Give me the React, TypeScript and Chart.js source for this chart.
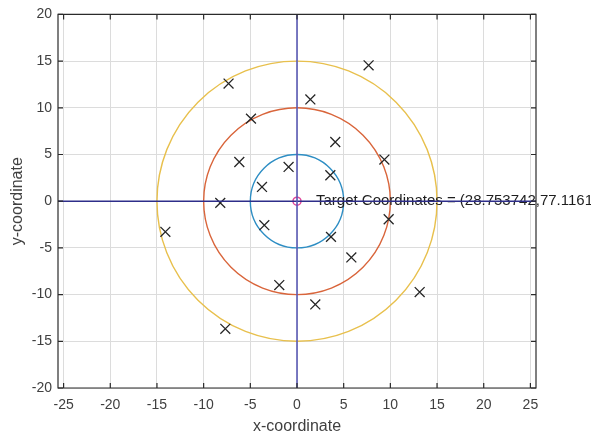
import React, { useEffect, useRef } from "react";
import { Chart, registerables } from "chart.js";

Chart.register(...registerables);

// ---- data ----
const xTickValues = [-25, -20, -15, -10, -5, 0, 5, 10, 15, 20, 25];
const yTickValues = [-20, -15, -10, -5, 0, 5, 10, 15, 20];
const xRange = [-25.6, 25.6];
const yRange = [-20, 20];

const markerX = [-7.33, 7.67, 1.43, -4.93, 4.1, -6.18, 9.36, -0.9, 3.57, -3.75, -8.22, 9.82, -14.1, -3.5, 3.64, 5.82, -1.9, 1.96, 13.14, -7.68];
const markerY = [12.59, 14.55, 10.9, 8.84, 6.34, 4.2, 4.46, 3.67, 2.78, 1.53, -0.18, -1.93, -3.28, -2.57, -3.82, -6.02, -8.98, -11.05, -9.73, -13.66];

const circleRadii = [5, 10, 15];
const circleColors = ["#2e8ec4", "#d9653b", "#e8c04d"];

const targetX = [0];
const targetY = [0];
const targetLabel = "Target Coordinates = (28.753742,77.116160)";

const vLineX = [0, 0];
const vLineY = [-20, 20];
const hLineX = [-25.6, 25.6];
const hLineY = [0, 0];

const FONT = "'Liberation Sans', Arial, sans-serif";
const TEXT_COLOR = "#404040";
const AXIS_COLOR = "#2b2b2b";

const overlayPlugin = {
  id: "overlay",
  beforeDatasetsDraw(chart: any) {
    const { ctx, chartArea, scales } = chart;
    const xs = scales.x;
    const ys = scales.y;
    const cx = xs.getPixelForValue(targetX[0]);
    const cy = ys.getPixelForValue(targetY[0]);
    ctx.save();
    ctx.beginPath();
    ctx.rect(chartArea.left, chartArea.top, chartArea.right - chartArea.left, chartArea.bottom - chartArea.top);
    ctx.clip();
    circleRadii.forEach((r, i) => {
      const rx = Math.abs(xs.getPixelForValue(r) - xs.getPixelForValue(0));
      const ry = Math.abs(ys.getPixelForValue(r) - ys.getPixelForValue(0));
      ctx.beginPath();
      ctx.ellipse(cx, cy, rx, ry, 0, 0, Math.PI * 2);
      ctx.strokeStyle = circleColors[i];
      ctx.lineWidth = 1.4;
      ctx.stroke();
    });
    ctx.restore();
    ctx.save();
    ctx.font = `15px ${FONT}`;
    ctx.fillStyle = "#1e1e1e";
    ctx.textBaseline = "middle";
    ctx.textAlign = "left";
    ctx.fillText(targetLabel, cx + 19, cy);
    ctx.restore();
  },
  afterDraw(chart: any) {
    const { ctx, chartArea, scales } = chart;
    const { left, right, top, bottom } = chartArea;
    ctx.save();
    ctx.strokeStyle = AXIS_COLOR;
    ctx.lineWidth = 1.2;
    ctx.beginPath();
    ctx.rect(left, top, right - left, bottom - top);
    ctx.stroke();
    const tl = 5;
    ctx.beginPath();
    xTickValues.forEach((v) => {
      const p = scales.x.getPixelForValue(v);
      ctx.moveTo(p, bottom);
      ctx.lineTo(p, bottom - tl);
      ctx.moveTo(p, top);
      ctx.lineTo(p, top + tl);
    });
    yTickValues.forEach((v) => {
      const p = scales.y.getPixelForValue(v);
      ctx.moveTo(left, p);
      ctx.lineTo(left + tl, p);
      ctx.moveTo(right, p);
      ctx.lineTo(right - tl, p);
    });
    ctx.stroke();
    ctx.restore();
  },
};

export default function App() {
  const canvasRef = useRef<HTMLCanvasElement | null>(null);

  useEffect(() => {
    if (!canvasRef.current) return;
    const chart = new Chart(canvasRef.current, {
      type: "scatter",
      data: {
        datasets: [
          {
            label: "vertical",
            data: vLineX.map((x, i) => ({ x, y: vLineY[i] })),
            showLine: true,
            borderColor: "#5a5ab4",
            borderWidth: 1.6,
            pointRadius: 0,
          },
          {
            label: "horizontal",
            data: hLineX.map((x, i) => ({ x, y: hLineY[i] })),
            showLine: true,
            borderColor: "#2e2e8a",
            borderWidth: 1.6,
            pointRadius: 0,
          },
          {
            label: "points",
            data: markerX.map((x, i) => ({ x, y: markerY[i] })),
            showLine: false,
            pointStyle: "crossRot",
            pointRadius: 7,
            borderColor: "#262626",
            backgroundColor: "#262626",
            pointBorderWidth: 1.3,
          },
          {
            label: "target",
            data: targetX.map((x, i) => ({ x, y: targetY[i] })),
            showLine: false,
            pointStyle: "circle",
            pointRadius: 4,
            borderColor: "#e0449a",
            backgroundColor: "rgba(0,0,0,0)",
            pointBorderWidth: 1.5,
          },
        ],
      },
      options: {
        responsive: false,
        maintainAspectRatio: false,
        animation: false,
        devicePixelRatio: 1,
        events: [],
        layout: { padding: { top: 14, right: 55, left: 0, bottom: 0 } },
        plugins: {
          legend: { display: false },
          tooltip: { enabled: false },
        },
        scales: {
          x: {
            type: "linear",
            min: xRange[0],
            max: xRange[1],
            afterBuildTicks: (s: any) => {
              s.ticks = xTickValues.map((v) => ({ value: v }));
            },
            afterFit: (s: any) => {
              s.height = 48;
            },
            grid: { color: "#dcdcdc", lineWidth: 1, drawTicks: false },
            border: { display: false },
            ticks: {
              color: TEXT_COLOR,
              font: { family: FONT, size: 14 },
              padding: 9,
              maxRotation: 0,
              callback: (v: any) => String(v),
            },
            title: {
              display: true,
              text: "x-coordinate",
              color: TEXT_COLOR,
              font: { family: FONT, size: 16 },
              padding: { top: 0, bottom: 0 },
            },
          },
          y: {
            type: "linear",
            min: yRange[0],
            max: yRange[1],
            afterBuildTicks: (s: any) => {
              s.ticks = yTickValues.map((v) => ({ value: v }));
            },
            afterFit: (s: any) => {
              s.width = 58;
            },
            grid: { color: "#dcdcdc", lineWidth: 1, drawTicks: false },
            border: { display: false },
            ticks: {
              color: TEXT_COLOR,
              font: { family: FONT, size: 14 },
              padding: 6,
              callback: (v: any) => String(v),
            },
            title: {
              display: true,
              text: "y-coordinate",
              color: TEXT_COLOR,
              font: { family: FONT, size: 16 },
              padding: { top: 8, bottom: 0 },
            },
          },
        },
      },
      plugins: [overlayPlugin],
    } as any);
    return () => chart.destroy();
  }, []);

  return (
    <div style={{ position: "absolute", left: 0, top: 0, width: 591, height: 436, background: "#ffffff" }}>
      <canvas ref={canvasRef} width={591} height={436} />
    </div>
  );
}
